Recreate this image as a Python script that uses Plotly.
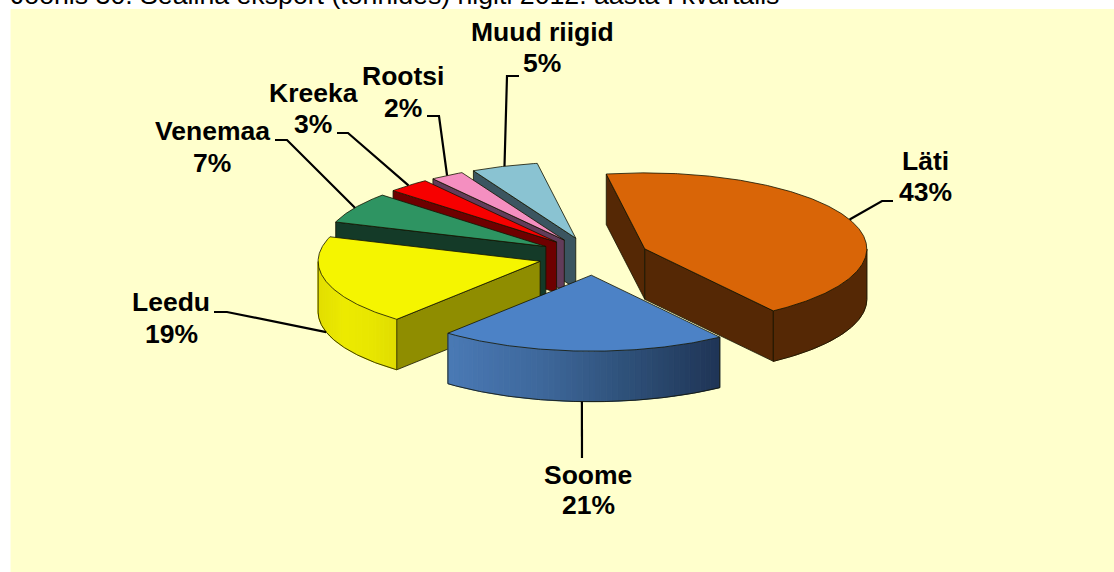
import math
import plotly.graph_objects as go

# --- data ---
categories = ["Läti", "Soome", "Leedu", "Venemaa", "Kreeka", "Rootsi", "Muud riigid"]
shares = [42.95, 21.0, 19.05, 6.6, 3.1, 2.45, 4.85]
title_text = "Joonis 30. Sealiha eksport (tonnides) riigiti 2012. aasta I kvartalis"

# --- styling ---
W, H = 1114, 572
BG = "#FFFFCC"
TOP = ["#D96507", "#4C82C6", "#F5F500", "#2E9462", "#F70000", "#F48FC0", "#8AC3D2"]
WALL = ["#552805", "#4A7AB5", "#8F8D00", "#143A28", "#6E0000", "#623C5A", "#3B5560"]
RIM = {
    0: [(85, 40, 5), (85, 40, 5)],
    1: [(74, 122, 181), (62, 104, 156), (46, 80, 120), (31, 52, 86)],
    2: [(226, 222, 0), (236, 234, 0), (232, 230, 0), (224, 220, 0)],
}
FONT = "Liberation Sans, Arial, sans-serif"
LABEL_SIZE = 26.5
CX, CY, RX, RY, DEPTH, EXPLODE, START = 593.6, 256.2, 222.0, 76.0, 50.5, 0.25, 350.0
# label centre (x, first line y, second line y) and elbow path of each leader
LABEL_POS = [(925, 161, 192), (588, 475, 505), (171, 302, 334), (212, 131, 163),
             (313, 93, 124), (403, 76, 108), (542, 32, 63)]
ELBOWS = [[(882, 201), (893, 201)], [(582, 458)], [(227, 312), (214, 312)],
          [(287, 140), (275, 140)], [(348, 133), (337, 133)],
          [(439, 116), (427, 116)], [(507, 76), (519, 76)]]
OUTLINE = "rgba(20,20,0,0.8)"

fig = go.Figure()


def poly(xs, ys, fill, line=None, width=1.0):
    fig.add_trace(go.Scatter(
        x=xs, y=ys, mode="lines", fill="toself", fillcolor=fill,
        line=dict(color=line or fill, width=width),
        hoverinfo="skip", showlegend=False))


def stroke(xs, ys, color=OUTLINE, width=1.0):
    fig.add_trace(go.Scatter(
        x=xs, y=ys, mode="lines", line=dict(color=color, width=width),
        hoverinfo="skip", showlegend=False))


def frange(a, b, step=1.0):
    n = max(2, int(abs(b - a) / step) + 1)
    return [a + (b - a) * i / (n - 1) for i in range(n)]


def shade(stops, t):
    t = max(0.0, min(1.0, t)) * (len(stops) - 1)
    i = min(int(t), len(stops) - 2)
    f = t - i
    c = [round(stops[i][k] + (stops[i + 1][k] - stops[i][k]) * f) for k in range(3)]
    return f"rgb({c[0]},{c[1]},{c[2]})"


# slice angles derived from the values
total = sum(shares)
spans = []
cur = START
for v in shares:
    spans.append((cur, cur + 360.0 * v / total))
    cur += 360.0 * v / total


def pt(i, deg, r=1.0, z=0.0):
    a, b = spans[i]
    m = math.radians((a + b) / 2)
    t = math.radians(deg)
    ox = CX + EXPLODE * RX * math.sin(m)
    oy = CY - EXPLODE * RY * math.cos(m)
    return ox + r * RX * math.sin(t), oy - r * RY * math.cos(t) + z


def draw_slice(i):
    a, b = spans[i]
    ap = pt(i, a, 0)
    apb = pt(i, a, 0, DEPTH)
    # radial walls that face the viewer
    for edge, nrm in ((a, a - 90), (b, b + 90)):
        if math.cos(math.radians(nrm)) < 0:
            e = pt(i, edge)
            eb = pt(i, edge, 1, DEPTH)
            xs = [ap[0], e[0], eb[0], apb[0], ap[0]]
            ys = [ap[1], e[1], eb[1], apb[1], ap[1]]
            poly(xs, ys, WALL[i], OUTLINE)
    # curved rim, the part on the near side
    degs = [d for d in frange(a, b, 0.5) if math.cos(math.radians(d)) <= 0]
    if len(degs) > 1:
        stops = RIM.get(i, [(60, 60, 60), (60, 60, 60)])
        lo = min(pt(i, d)[0] for d in degs)
        hi = max(pt(i, d)[0] for d in degs)
        chunk = len(degs) if i == 0 else 3  # flat rim needs a single polygon
        for k in range(0, len(degs) - 1, chunk):
            seg = degs[k:k + chunk + 1]
            top = [pt(i, d) for d in seg]
            bot = [pt(i, d, 1, DEPTH) for d in reversed(seg)]
            xs = [p[0] for p in top + bot] + [top[0][0]]
            ys = [p[1] for p in top + bot] + [top[0][1]]
            xm = sum(xs) / len(xs)
            poly(xs, ys, shade(stops, (xm - lo) / max(hi - lo, 1)))
        t0 = [pt(i, d, 1, DEPTH) for d in degs]
        stroke([p[0] for p in t0], [p[1] for p in t0])
        for d in (degs[0], degs[-1]):
            p0, p1 = pt(i, d), pt(i, d, 1, DEPTH)
            stroke([p0[0], p1[0]], [p0[1], p1[1]])
    # top face
    arc = [pt(i, d) for d in frange(a, b, 0.5)]
    xs = [ap[0]] + [p[0] for p in arc] + [ap[0]]
    ys = [ap[1]] + [p[1] for p in arc] + [ap[1]]
    poly(xs, ys, TOP[i], OUTLINE)


# title first, so that the panel below cuts its descenders as in the source
fig.add_trace(go.Scatter(
    x=[11], y=[11], mode="text", text=[title_text], textposition="top right",
    textfont=dict(family=FONT, size=26.7, color="#000000"),
    hoverinfo="skip", showlegend=False))
poly([11, W, W, 11, 11], [9.5, 9.5, H, H, 9.5], BG)

# painter's order: far slices first, nearest last
for i in [6, 5, 4, 3, 2, 0, 1]:
    draw_slice(i)

# leader lines start at the outer middle of each slice
for i in range(len(shares)):
    a, b = spans[i]
    m = (a + b) / 2
    z = DEPTH if math.cos(math.radians(m)) < 0 else 0.0
    s = pt(i, m, 1, z)
    path = [s] + ELBOWS[i]
    stroke([p[0] for p in path], [p[1] for p in path], "#000000", 2.2)

# labels: the percentage is the rounded share
for name, v, (x, y1, y2) in zip(categories, shares, LABEL_POS):
    for txt, y in ((name, y1), (f"{v:.0f}%", y2)):
        fig.add_annotation(x=x, y=y, text=f"<b>{txt}</b>", showarrow=False,
                           xanchor="center", yanchor="middle",
                           font=dict(family=FONT, size=LABEL_SIZE, color="#000000"))

fig.update_layout(
    width=W, height=H, margin=dict(l=0, r=0, t=0, b=0, pad=0),
    paper_bgcolor="#FFFFFF", plot_bgcolor="#FFFFFF", showlegend=False,
    xaxis=dict(range=[0, W], visible=False, fixedrange=True),
    yaxis=dict(range=[H, 0], visible=False, fixedrange=True),
)
fig.write_html("out.html", config={"displayModeBar": False},
               post_script="document.body.style.margin='0';")
